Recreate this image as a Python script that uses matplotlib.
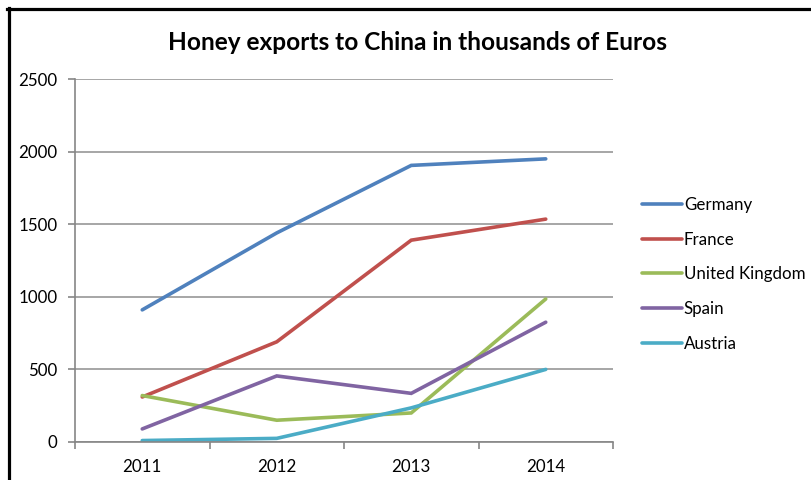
import matplotlib
matplotlib.use("Agg")
import matplotlib.pyplot as plt
from matplotlib.lines import Line2D

years = ["2011", "2012", "2013", "2014"]
germany = [910, 1440, 1905, 1950]
france = [310, 690, 1390, 1535]
united_kingdom = [320, 150, 200, 985]
spain = [90, 455, 335, 825]
austria = [10, 25, 235, 500]

series = [
    ("Germany", germany, "#4F81BD"),
    ("France", france, "#C0504D"),
    ("United Kingdom", united_kingdom, "#9BBB59"),
    ("Spain", spain, "#8064A2"),
    ("Austria", austria, "#4BACC6"),
]

plt.rcParams["font.family"] = ["Lato", "DejaVu Sans"]

W, H = 811, 480
fig = plt.figure(figsize=(W / 100, H / 100), dpi=100)
ax = fig.add_axes([75 / W, 1 - 442 / H, (613 - 75) / W, (442 - 79) / H])

x = list(range(len(years)))
for name, vals, color in series:
    ax.plot(x, vals, color=color, lw=2.6, label=name, solid_capstyle="round",
            solid_joinstyle="miter")

ax.set_xlim(-0.5, len(years) - 0.5)
ax.set_ylim(0, 2500)
ax.set_yticks(range(0, 2501, 500))
ax.set_xticks(x)
ax.set_xticklabels(years)
ax.set_xticks([i - 0.5 for i in range(len(years) + 1)], minor=True)
ax.tick_params(axis="x", which="major", length=0, pad=12, labelsize=12.2, colors="#000000")
ax.tick_params(axis="x", which="minor", length=5, width=1.2, color="#868686")
ax.tick_params(axis="y", length=5, width=1.2, color="#868686", pad=7.5, labelsize=12.2)

ax.grid(axis="y", color="#a6a6a6", lw=1.4)
ax.set_axisbelow(True)
for side in ("top", "right"):
    ax.spines[side].set_visible(False)
for side in ("left", "bottom"):
    ax.spines[side].set_color("#868686")
    ax.spines[side].set_linewidth(1.2)

fig.text(418 / W, 1 - 42 / H, "Honey exports to China in thousands of Euros",
         ha="center", va="center", fontsize=17.6, fontweight="bold")

leg = ax.legend(loc="upper left", bbox_to_anchor=(642 / W, 1 - 197 / H),
                bbox_transform=fig.transFigure, frameon=False, fontsize=12.2,
                handlelength=2.35, handletextpad=0.12, labelspacing=1.1,
                borderaxespad=0, borderpad=0)
for h in leg.get_lines():
    h.set_linewidth(2.6)

# outer black frame
fig.add_artist(Line2D([8.5 / W, 8.5 / W], [1 - 8 / H, 0], transform=fig.transFigure,
                      color="black", lw=2.3))
fig.add_artist(Line2D([7 / W, 1], [1 - 9 / H, 1 - 9 / H], transform=fig.transFigure,
                      color="black", lw=2.3))

fig.savefig("out.png", dpi=100, facecolor="white")
